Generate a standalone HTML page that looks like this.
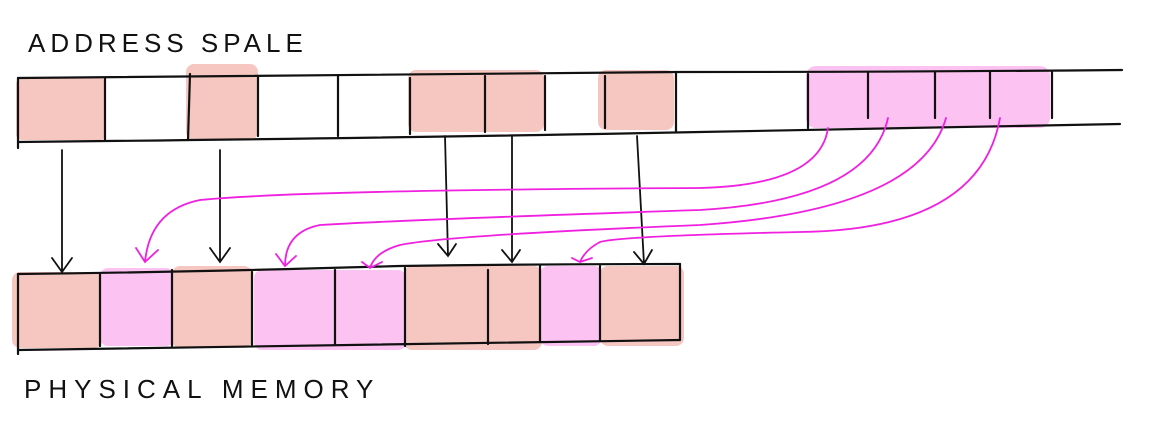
<!DOCTYPE html>
<html><head><meta charset="utf-8"><style>
html,body{margin:0;padding:0;background:#fff;width:1172px;height:440px;overflow:hidden}
svg{display:block}
text{font-family:"Liberation Sans",sans-serif;font-size:26px;fill:#111;letter-spacing:5px}
</style></head><body>
<svg width="1172" height="440" viewBox="0 0 1172 440">
<text x="28" y="52" style="font-weight:300">ADDRESS  SPALE</text>
<text x="24" y="398" style="font-weight:300;letter-spacing:7px">PHYSICAL  MEMORY</text>
<g>
<rect x="16" y="78" width="90" height="62" rx="6" fill="#f6c7c1"/>
<rect x="186" y="64" width="72" height="76" rx="8" fill="#f6c7c1"/>
<rect x="408" y="70" width="136" height="62" rx="8" fill="#f6c7c1"/>
<rect x="598" y="70" width="76" height="60" rx="8" fill="#f6c7c1"/>
<rect x="806" y="66" width="244" height="62" rx="10" fill="#fcc2f1"/>
</g>
<g>
<rect x="12" y="272" width="90" height="76" rx="8" fill="#f6c7c1"/>
<rect x="100" y="268" width="74" height="78" rx="8" fill="#fcc2f1"/>
<rect x="172" y="266" width="80" height="82" rx="8" fill="#f6c7c1"/>
<rect x="254" y="270" width="152" height="80" rx="8" fill="#fcc2f1"/>
<rect x="404" y="266" width="138" height="84" rx="8" fill="#f6c7c1"/>
<rect x="540" y="266" width="62" height="80" rx="8" fill="#fcc2f1"/>
<rect x="600" y="266" width="84" height="80" rx="8" fill="#f6c7c1"/>
</g>
<g stroke="#111" stroke-width="2.2" fill="none" stroke-linecap="round">
<path d="M18 78 Q350 74 680 72 Q900 72 1122 70"/>
<path d="M18 142 Q400 138 700 132 Q900 128 1120 124"/>
<path d="M18 78 L18 148 M105 78 L105 140 M190 74 L188 140 M258 76 L258 136 M338 76 L338 136 M410 78 L410 134 M485 76 L485 132 M545 76 L545 130 M605 76 L605 128 M676 72 L676 132 M808 74 L808 128 M868 72 L868 118 M935 72 L935 118 M990 72 L990 118 M1052 72 L1052 118"/>
</g>
<g stroke="#111" stroke-width="2.2" fill="none" stroke-linecap="round">
<path d="M18 274 Q200 272 400 266 Q540 264 680 264"/>
<path d="M18 350 Q350 346 680 340"/>
<path d="M18 274 L18 354 M100 274 L100 346 M172 270 L172 346 M252 272 L252 346 M335 270 L335 344 M405 268 L405 346 M488 270 L488 344 M540 266 L540 342 M600 266 L600 340 M680 264 L680 340"/>
</g>
<g stroke="#111" stroke-width="1.8" fill="none" stroke-linecap="round">
<path d="M62 150 L62 272 M52 258 L62 272 L72 258"/>
<path d="M220 150 L220 262 M210 248 L220 262 L230 248"/>
<path d="M445 136 L448 256 M438 244 L448 256 L456 244"/>
<path d="M512 136 L512 262 M502 250 L512 262 L520 250"/>
<path d="M637 136 L644 264 M634 252 L644 264 L652 250"/>
</g>
<g stroke="#f020e0" stroke-width="1.8" fill="none" stroke-linecap="round">
<path d="M828 128 Q820 185 700 188 Q300 190 200 200 Q150 210 145 262 M136 248 L145 262 L158 250"/>
<path d="M888 118 Q870 200 700 210 Q400 220 320 225 Q285 232 285 266 M276 254 L285 266 L296 256"/>
<path d="M946 118 Q920 210 700 225 Q450 235 400 245 Q375 252 370 268 M362 262 L370 268 L382 262"/>
<path d="M1000 118 Q980 230 800 232 Q620 236 600 242 Q585 250 580 262 M572 258 L580 262 L592 258"/>
</g>
</svg>
</body></html>
